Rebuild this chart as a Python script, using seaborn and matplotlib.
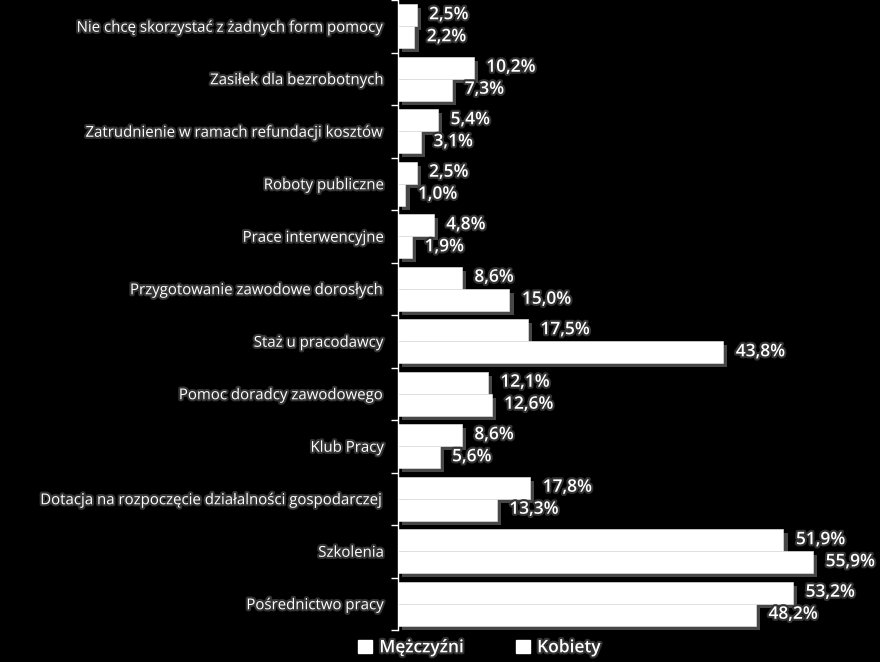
import matplotlib
matplotlib.use("Agg")
import matplotlib.pyplot as plt
import matplotlib.patheffects as pe
from matplotlib.patches import Patch
from matplotlib.ticker import FixedLocator
import seaborn as sns
import pandas as pd

categories = [
    "Nie chcę skorzystać z żadnych form pomocy",
    "Zasiłek dla bezrobotnych",
    "Zatrudnienie w ramach refundacji kosztów",
    "Roboty publiczne",
    "Prace interwencyjne",
    "Przygotowanie zawodowe dorosłych",
    "Staż u pracodawcy",
    "Pomoc doradcy zawodowego",
    "Klub Pracy",
    "Dotacja na rozpoczęcie działalności gospodarczej",
    "Szkolenia",
    "Pośrednictwo pracy",
]
men = [2.5, 10.2, 5.4, 2.5, 4.8, 8.6, 17.5, 12.1, 8.6, 17.8, 51.9, 53.2]
women = [2.2, 7.3, 3.1, 1.0, 1.9, 15.0, 43.8, 12.6, 5.6, 13.3, 55.9, 48.2]
series_names = ["Mężczyźni", "Kobiety"]

df = pd.DataFrame({
    "Kategoria": categories * 2,
    "Wartość": men + women,
    "Płeć": [series_names[0]] * len(categories) + [series_names[1]] * len(categories),
})

sns.set_style("white")
plt.rcParams["font.family"] = ["Open Sans", "DejaVu Sans"]

fig = plt.figure(figsize=(8.8, 6.62), dpi=100, facecolor="black")
ax = fig.add_axes([398 / 880, 32 / 662, 1 - 398 / 880, 630 / 662])
ax.set_facecolor("black")

sns.barplot(data=df, y="Kategoria", x="Wartość", hue="Płeć", orient="h",
            palette=["white", "white"], width=0.84, ax=ax, legend=False,
            edgecolor="#dddddd", linewidth=0.5)

shadow = [pe.SimplePatchShadow(offset=(3, -3), shadow_rgbFace="#777777", alpha=0.6), pe.Normal()]
for p in ax.patches:
    p.set_path_effects(shadow)

txt_fx = [pe.withStroke(linewidth=3, foreground="#333333")]
for cont in ax.containers:
    for bar in cont:
        w = bar.get_width()
        y = bar.get_y() + bar.get_height() / 2
        ax.annotate(f"{w:.1f}%".replace(".", ","), (w, y), xytext=(9, 0),
                    textcoords="offset points", va="center", ha="left",
                    color="white", fontsize=12.5, fontweight="semibold",
                    path_effects=txt_fx)

ax.set_xlim(0, 64.9)
ax.set_ylim(len(categories) - 0.5, -0.5)
ax.set_xlabel("")
ax.set_ylabel("")
ax.xaxis.set_visible(False)
for s in ["top", "right", "bottom"]:
    ax.spines[s].set_visible(False)
ax.spines["left"].set_color("white")
ax.spines["left"].set_linewidth(1)

ax.tick_params(axis="y", which="major", length=0, pad=10, labelcolor="white", labelsize=10.8)
ax.yaxis.set_minor_locator(FixedLocator([i - 0.5 for i in range(len(categories) + 1)]))
ax.tick_params(axis="y", which="minor", length=5, color="white", width=1, left=True)
for t in ax.get_yticklabels():
    t.set_path_effects(txt_fx)

handles = [Patch(facecolor="white", edgecolor="white", label=n) for n in series_names]
leg = fig.legend(handles=handles, loc="lower center", bbox_to_anchor=(0.545, -0.015),
                 ncol=2, frameon=False, fontsize=12.5, handlelength=0.8, handleheight=0.8,
                 handletextpad=0.4, columnspacing=3.0)
for t in leg.get_texts():
    t.set_color("white")
    t.set_fontweight("semibold")
    t.set_path_effects(txt_fx)

fig.savefig("out.png", dpi=100, facecolor="black")
